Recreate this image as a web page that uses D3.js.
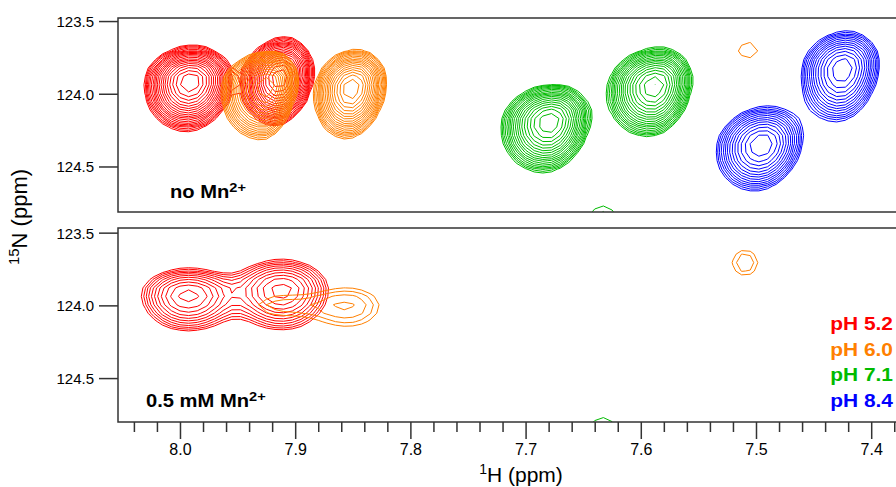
<!DOCTYPE html>
<html><head><meta charset="utf-8">
<script src="https://cdn.jsdelivr.net/npm/d3@7"></script>
<style>
body{margin:0;background:#fff}
svg{display:block}
text{font-family:"Liberation Sans",Arial,Helvetica,sans-serif;fill:#000}
</style>
</head><body>
<svg id="chart" width="896" height="487"></svg>
<script>
// ---------------- DATA ----------------
const phLabels = ["pH 5.2", "pH 6.0", "pH 7.1", "pH 8.4"];
const xMajorTicks = [8.0, 7.9, 7.8, 7.7, 7.6, 7.5, 7.4];
const xMinorTicks = [8.04, 8.02, 7.98, 7.96, 7.94, 7.92, 7.88, 7.86, 7.84, 7.82, 7.78, 7.76, 7.74, 7.72,
                     7.68, 7.66, 7.64, 7.62, 7.58, 7.56, 7.54, 7.52, 7.48, 7.46, 7.44, 7.42, 7.38];
const yTicks = [123.5, 124.0, 124.5];
const panelTitles = [["no Mn", "2+"], ["0.5 mM Mn", "2+"]];

// peak tables: [1H ppm, 15N ppm, height (base-level units),
//               sigma1H left, sigma1H right, sigma15N up, sigma15N down, tilt (ppm 1H per ppm 15N)]
const noMn_pH52 = [
  [7.991, 123.913, 16.4, 0.0168, 0.0157, 0.102, 0.145, 0.010],
  [7.913, 123.888, 16.4, 0.0139, 0.0121, 0.116, 0.139, 0.015]
];
const noMn_pH60 = [
  [7.9236, 123.936, 12.4, 0.0178, 0.0112, 0.101, 0.168, 0.015],
  [7.8507, 123.957, 12.4, 0.0143, 0.0131, 0.116, 0.156, 0.015],
  [7.507, 123.702, 1.14, 0.0173, 0.0173, 0.110, 0.110, 0.0]
];
const noMn_pH71 = [
  [7.6788, 124.190, 12.4, 0.0186, 0.0155, 0.113, 0.156, 0.017],
  [7.5877, 123.943, 12.4, 0.0182, 0.0143, 0.116, 0.156, 0.017],
  [7.633, 124.880, 1.27, 0.0174, 0.0174, 0.160, 0.160, 0.0]
];
const noMn_pH84 = [
  [7.4245, 123.826, 7.08, 0.0180, 0.0158, 0.129, 0.184, 0.015],
  [7.4948, 124.349, 7.08, 0.0197, 0.0175, 0.132, 0.160, 0.020]
];
const mn_pH52 = [
  [7.993, 123.926, 4.34, 0.0235, 0.0240, 0.105, 0.145, 0.0],
  [7.9115, 123.893, 4.34, 0.0240, 0.0235, 0.121, 0.160, 0.0]
];
const mn_pH60 = [
  [7.854, 124.002, 1.53, 0.0290, 0.0290, 0.130, 0.152, 0.0],
  [7.918, 124.000, 1.12, 0.0250, 0.0250, 0.090, 0.090, 0.0],
  [7.5095, 123.707, 1.34, 0.0147, 0.0147, 0.116, 0.116, 0.0]
];
const mn_pH71 = [
  [7.633, 124.880, 1.27, 0.0174, 0.0174, 0.160, 0.160, 0.0]
];
const mn_pH84 = [];

// contour levels: base level and geometric multiplier (as in NMR plotting software)
const levelBase = 1.0, levelFactor = 1.15, levelCount = 24;

// ---------------- STYLE / LAYOUT ----------------
const colors = ["#ff0000", "#ff8000", "#00bb00", "#0000ff"];
const plotLeft = 118, plotRight = 900;
const panels = [
  {top: 18, bottom: 212, domain: [123.479, 124.813], spectra: [noMn_pH52, noMn_pH60, noMn_pH71, noMn_pH84], title: panelTitles[0], titleX: 170, titleY: 198},
  {top: 228, bottom: 422, domain: [123.468, 124.802], spectra: [mn_pH52, mn_pH60, mn_pH71, mn_pH84], title: panelTitles[1], titleX: 146, titleY: 407}
];

const svg = d3.select("#chart");
const x = d3.scaleLinear().domain([8.0538, 7.375]).range([plotLeft, plotRight]);

// sampling grid for the spectra
const gH0 = 8.12, gH1 = 7.32, gN0 = 123.30, gN1 = 125.10;
const dxH = 0.0075, dyN = 0.058;
const nx = Math.ceil((gH0 - gH1) / dxH) + 1;
const ny = Math.ceil((gN1 - gN0) / dyN) + 1;
const levels = d3.range(levelCount).map(i => levelBase * Math.pow(levelFactor, i));

function field(peaks) {
  const v = new Float64Array(nx * ny);
  for (let j = 0; j < ny; j++) {
    const N = gN0 + j * dyN;
    for (let i = 0; i < nx; i++) {
      const h = gH0 - i * dxH;
      let s = 0;
      for (const p of peaks) {
        const dn = N - p[1];
        const dh = h - (p[0] + p[7] * dn);
        const sh = dh > 0 ? p[3] : p[4];
        const sn = dn < 0 ? p[5] : p[6];
        s += p[2] * Math.exp(-0.5 * ((dh / sh) ** 2 + (dn / sn) ** 2));
      }
      v[j * nx + i] = s;
    }
  }
  return v;
}

panels.forEach((pn, k) => {
  const y = d3.scaleLinear().domain(pn.domain).range([pn.top, pn.bottom]);
  const g = svg.append("g");
  const clipId = "clip" + k;
  svg.append("clipPath").attr("id", clipId).append("rect")
    .attr("x", plotLeft).attr("y", pn.top).attr("width", plotRight - plotLeft).attr("height", pn.bottom - pn.top);

  const proj = d3.geoTransform({
    point: function(gx, gy) {
      this.stream.point(x(gH0 - (gx - 0.5) * dxH), y(gN0 + (gy - 0.5) * dyN));
    }
  });
  const path = d3.geoPath(proj);
  const cg = g.append("g").attr("clip-path", `url(#${clipId})`);
  pn.spectra.forEach((peaks, si) => {
    if (!peaks.length) return;
    const cont = d3.contours().size([nx, ny]).thresholds(levels)(field(peaks));
    cg.append("g").selectAll("path").data(cont).join("path")
      .attr("d", path).attr("fill", "none").attr("stroke", colors[si])
      .attr("stroke-width", 1).attr("stroke-linejoin", "round");
  });

  // frame
  g.append("rect").attr("x", plotLeft).attr("y", pn.top)
    .attr("width", plotRight - plotLeft).attr("height", pn.bottom - pn.top)
    .attr("fill", "none").attr("stroke", "#333").attr("stroke-width", 1.5);

  // y axis
  const ya = d3.axisLeft(y).tickValues(yTicks).tickFormat(d3.format(".1f")).tickSize(19).tickPadding(5);
  const yg = g.append("g").attr("transform", `translate(${plotLeft},0)`).call(ya);
  yg.select(".domain").remove();
  yg.selectAll(".tick line").attr("stroke", "#333").attr("stroke-width", 1.5);
  yg.selectAll(".tick text").attr("font-size", 15).attr("font-family", "Liberation Sans, Arial, sans-serif")
    .attr("fill", "#000").attr("dy", "0.36em");

  // panel title
  const t = g.append("text").attr("transform", `translate(${pn.titleX},${pn.titleY}) scale(1.12,1)`)
    .attr("font-weight", "bold").attr("font-size", 18);
  t.append("tspan").text(pn.title[0]);
  t.append("tspan").attr("font-size", 13).attr("dy", -6).text(pn.title[1]);

  if (k === 1) {
    const xa = d3.axisBottom(x).tickValues(xMajorTicks).tickFormat(d3.format(".1f")).tickSize(17).tickPadding(5);
    const xg = g.append("g").attr("transform", `translate(0,${pn.bottom})`).call(xa);
    xg.select(".domain").remove();
    xg.selectAll(".tick line").attr("stroke", "#333").attr("stroke-width", 1.5);
    xg.selectAll(".tick text").attr("font-size", 16).attr("font-family", "Liberation Sans, Arial, sans-serif").attr("fill", "#000");
    const xm = d3.axisBottom(x).tickValues(xMinorTicks).tickFormat("").tickSize(10);
    const xmg = g.append("g").attr("transform", `translate(0,${pn.bottom})`).call(xm);
    xmg.select(".domain").remove();
    xmg.selectAll(".tick line").attr("stroke", "#333").attr("stroke-width", 1.5);

    // legend
    phLabels.forEach((lab, i) => {
      g.append("text").attr("transform", `translate(893,${330 + i * 25.6}) scale(1.1,1)`)
        .attr("text-anchor", "end").attr("font-weight", "bold").attr("font-size", 19)
        .style("fill", colors[i]).text(lab);
    });
  }
});

// axis labels
const xl = svg.append("text").attr("x", 521).attr("y", 482).attr("text-anchor", "middle").attr("font-size", 21);
xl.append("tspan").attr("font-size", 14).attr("dy", -8).text("1");
xl.append("tspan").attr("dy", 8).text("H (ppm)");

const yl = svg.append("text").attr("transform", "translate(27,217) rotate(-90)").attr("text-anchor", "middle").attr("font-size", 22);
yl.append("tspan").attr("font-size", 15).attr("dy", -8).text("15");
yl.append("tspan").attr("dy", 8).text("N (ppm)");
</script>
</body></html>
